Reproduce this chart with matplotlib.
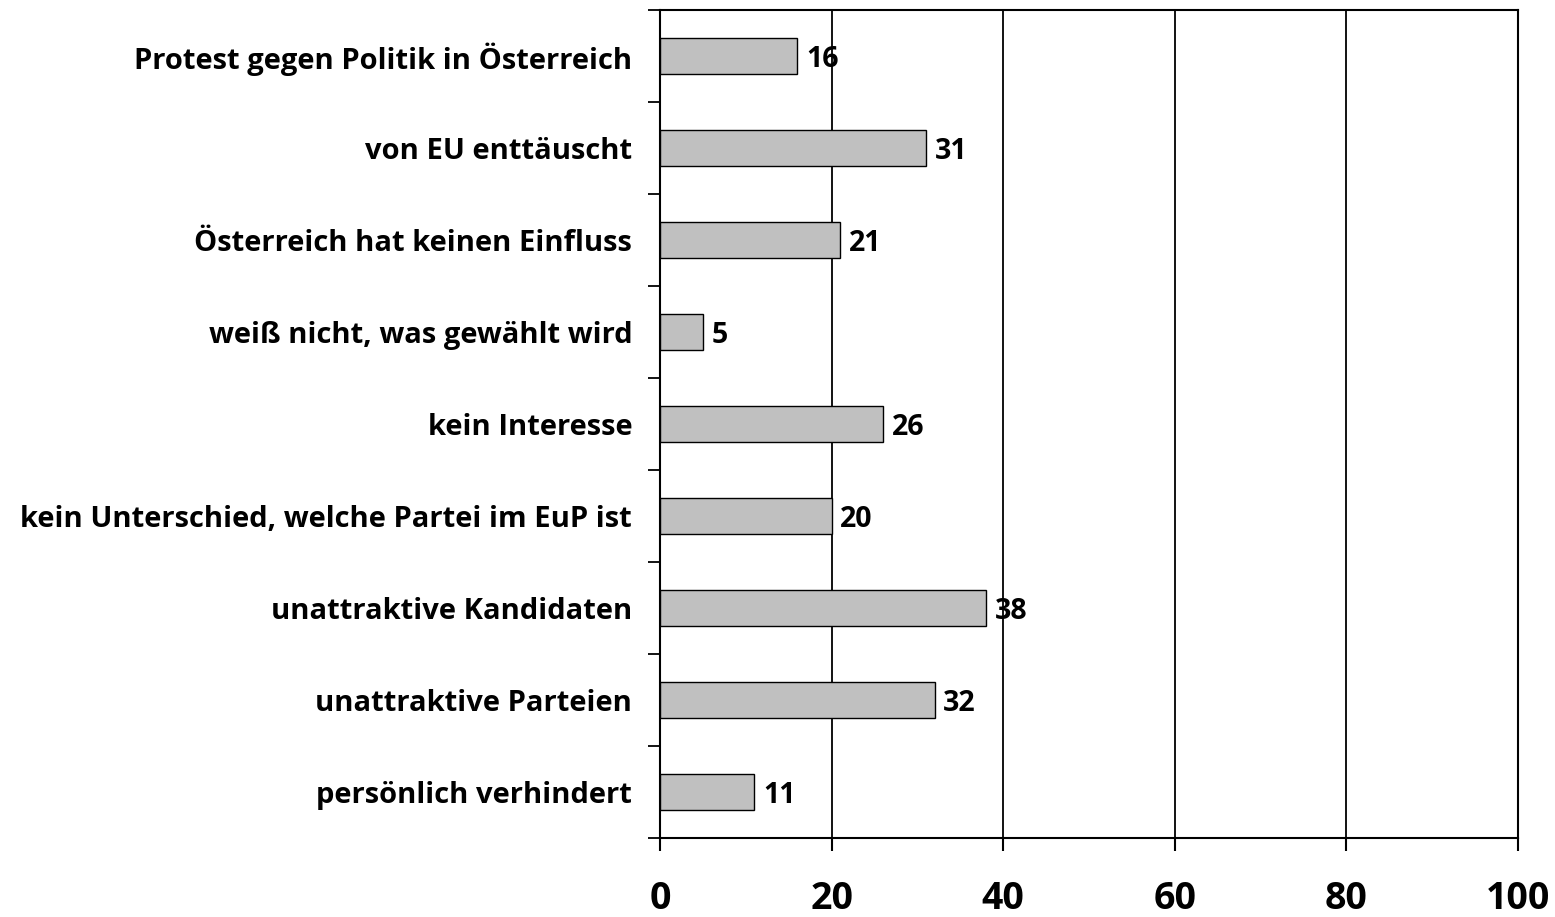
import matplotlib
matplotlib.use("Agg")
import matplotlib.pyplot as plt
import numpy as np

categories = [
    "Protest gegen Politik in Österreich",
    "von EU enttäuscht",
    "Österreich hat keinen Einfluss",
    "weiß nicht, was gewählt wird",
    "kein Interesse",
    "kein Unterschied, welche Partei im EuP ist",
    "unattraktive Kandidaten",
    "unattraktive Parteien",
    "persönlich verhindert",
]
values = [16, 31, 21, 5, 26, 20, 38, 32, 11]
xticks = [0, 20, 40, 60, 80, 100]

plt.rcParams['font.family'] = ['Open Sans', 'DejaVu Sans']

fig = plt.figure(figsize=(15.55, 9.17), dpi=100)
ax = fig.add_axes([660/1555, 1-838/917, (1518-660)/1555, (838-10)/917])

n = len(categories)
ypos = np.arange(n)[::-1]
ax.barh(ypos, values, height=0.39, color="#c0c0c0", edgecolor="black", linewidth=1.0, zorder=3)

for y, v in zip(ypos, values):
    ax.text(v + 1.0, y, str(v), va="center_baseline", ha="left", fontsize=20.5, fontweight="bold", zorder=4)

ax.set_xlim(0, 100)
ax.set_ylim(-0.5, n - 0.5)
ax.set_xticks(xticks)
ax.set_xticklabels([str(t) for t in xticks], fontsize=27, fontweight="bold")
ax.set_yticks(ypos)
ax.set_yticklabels(categories, fontsize=21, fontweight="bold")
ax.set_yticks(np.arange(-0.5, n, 1.0), minor=True)
ax.tick_params(axis="y", which="major", length=0, pad=20)
ax.tick_params(axis="y", which="minor", length=9, width=1.3, direction="out")
ax.tick_params(axis="x", which="major", length=9, width=1.5, direction="out", pad=21)

for xv in xticks[1:-1]:
    ax.axvline(xv, color="black", linewidth=1.3, zorder=1)

for s in ax.spines.values():
    s.set_linewidth(1.5)
    s.set_color("black")

fig.savefig("out.png", dpi=100)
